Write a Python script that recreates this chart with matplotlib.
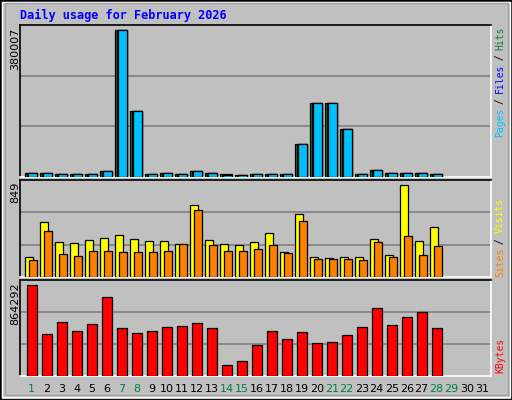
import matplotlib
matplotlib.use("Agg")
import matplotlib.pyplot as plt
from matplotlib.patches import Rectangle

days = list(range(1, 29))
all_days = list(range(1, 32))
weekend = [1, 7, 8, 14, 15, 21, 22, 28, 29]
hits = [11180, 11180, 8600, 8600, 8600, 16340, 380007, 171140, 8600, 11180, 8600, 16340, 11180, 8600,
        6020, 8600, 8600, 8600, 86000, 191780, 191780, 124700, 8600, 18920, 11180, 11180, 11180, 8600]
files = [11180, 11180, 8600, 8600, 8600, 16340, 380007, 171140, 8600, 11180, 8600, 16340, 11180, 6020,
         6020, 8600, 8600, 8600, 86000, 191780, 191780, 124700, 8600, 18920, 11180, 11180, 11180, 8600]
pages = [11180, 11180, 8600, 8600, 8600, 16340, 380007, 171140, 8600, 11180, 8600, 16340, 11180, 6020,
         6020, 8600, 8600, 8600, 86000, 191780, 191780, 124700, 8600, 18920, 11180, 11180, 11180, 8600]
visits = [187, 509, 325, 316, 343, 362, 389, 352, 334, 334, 307, 665, 343, 307, 297, 325, 408, 233, 582,
          187, 178, 187, 187, 352, 205, 849, 334, 463]
sites = [159, 426, 215, 196, 242, 242, 233, 233, 233, 242, 307, 619, 297, 242, 242, 261, 297, 224, 518,
         169, 169, 169, 159, 325, 187, 380, 205, 288]
kbytes = [864292, 400558, 514102, 428944, 495178, 750652, 457330, 410020, 428944, 466792, 476254, 504640,
          457330, 107236, 145084, 296476, 428944, 353248, 419482, 315400, 324862, 391096, 466792, 646570,
          485716, 561412, 608722, 457330]

W, H = 512, 400
BG = "#C0C0C0"
fig = plt.figure(figsize=(5.12, 4.0), dpi=100, facecolor=BG)

def fx(px): return px / W
def fy(py): return 1 - py / H

# frame
fig.patches.append(Rectangle((0, 0), 1, 1, transform=fig.transFigure, fill=False, ec="black", lw=2))
fig.patches.append(Rectangle((fx(2), fy(397)), fx(508), 395 / H, transform=fig.transFigure, fill=False, ec="white", lw=1))
fig.patches.append(Rectangle((fx(5), fy(395)), fx(503), 392 / H, transform=fig.transFigure, fill=False, ec="#A0A0A0", lw=1))

XL = (0.27, 0.27 + 471 / 15)

def mk(top, bot):
    ax = fig.add_axes([fx(20), fy(bot), fx(471), (bot - top) / H])
    ax.set_facecolor(BG)
    ax.set_xlim(*XL)
    ax.set_xticks([]); ax.set_yticks([])
    ax.spines["top"].set_color("black"); ax.spines["left"].set_color("black")
    ax.spines["bottom"].set_color("white"); ax.spines["right"].set_color("white")
    for s in ax.spines.values(): s.set_linewidth(1.2)
    return ax

def bars(ax, vals, l, r, color):
    ax.bar([d + l for d in days], vals, width=r - l, align="edge", color=color, ec="black", lw=0.9, zorder=3)

def grid(ax, top):
    for f in (1 / 3, 2 / 3):
        ax.axhline(top * f, color="#808080", lw=1.2, zorder=1)

ax1 = mk(25, 177)
top1 = max(hits) * 152 / 147.5
ax1.set_ylim(0, top1); grid(ax1, top1)
bars(ax1, hits, -0.397, 0.383, "#008040")
bars(ax1, files, -0.29, 0.383, "#0000FF")
bars(ax1, pages, -0.18, 0.383, "#00C0FF")

ax2 = mk(180, 277)
top2 = max(visits) * 97 / 92.3
ax2.set_ylim(0, top2); grid(ax2, top2)
bars(ax2, visits, -0.397, 0.156, "#FFFF00")
bars(ax2, sites, -0.11, 0.383, "#FF8000")

ax3 = mk(280, 376)
top3 = max(kbytes) * 96 / 91.3
ax3.set_ylim(0, top3); grid(ax3, top3)
bars(ax3, kbytes, -0.287, 0.383, "#FF0000")

for d in all_days:
    ax3.text(d + 0.05, -0.14, str(d), transform=ax3.get_xaxis_transform(), ha="center", va="center",
             fontsize=8, color="#008040" if d in weekend else "black", family="DejaVu Sans")

fig.text(fx(20), fy(15), "Daily usage for February 2026", color="#0000FF", fontsize=8.6,
         fontweight="bold", family="DejaVu Sans Mono", ha="left", va="center")

for val, top in ((max(hits), 28), (max(visits), 182), (max(kbytes), 282)):
    fig.text(fx(15), fy(top), str(val), rotation=90, ha="center", va="top", fontsize=8,
             family="DejaVu Sans", color="black")

def vlabel(parts, bottom_px, cpx=5.45):
    y = bottom_px
    for s, c in parts:
        fig.text(fx(500), fy(y), s, rotation=90, ha="center", va="bottom", fontsize=7,
                 family="DejaVu Sans Mono", color=c)
        y -= len(s) * cpx

vlabel([("Pages", "#00C0FF"), (" / ", "black"), ("Files", "#0000FF"), (" / ", "black"), ("Hits", "#008040")], 137)
vlabel([("Sites", "#FF8000"), (" / ", "black"), ("Visits", "#FFFF00")], 277)
vlabel([("KBytes", "#FF0000")], 373)

fig.savefig("out.png", dpi=100, facecolor=BG)
